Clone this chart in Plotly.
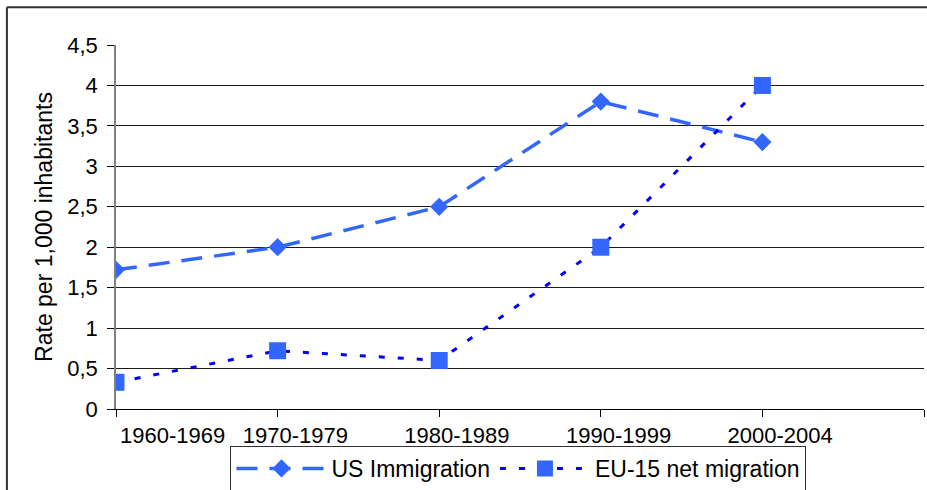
import plotly.graph_objects as go

periods = ["1960-1969", "1970-1979", "1980-1989", "1990-1999", "2000-2004"]
us_immigration = [1.72, 2.0, 2.5, 3.8, 3.3]
eu15_net_migration = [0.33, 0.72, 0.6, 2.0, 4.0]
y_ticks = [0, 0.5, 1, 1.5, 2, 2.5, 3, 3.5, 4, 4.5]

x_idx = list(range(len(periods)))

FONT = "Liberation Sans, Arial, sans-serif"

fig = go.Figure()
fig.add_trace(go.Scatter(
    x=x_idx, y=us_immigration, name="US Immigration", mode="lines+markers",
    line=dict(color="#3366FF", width=3.5, dash="21px,12px"),
    marker=dict(symbol="diamond", size=14, color="#3366FF"),
))
fig.add_trace(go.Scatter(
    x=x_idx, y=eu15_net_migration, name="EU-15 net migration", mode="lines+markers",
    line=dict(color="#0000FF", width=3, dash="6px,13px"),
    marker=dict(symbol="square", size=17, color="#3366FF"),
))

# label positions: Excel draws these slightly right of the tick marks
label_pos = [0.35] + [i + 0.11 for i in x_idx[1:]]

fig.update_layout(
    width=927, height=490,
    margin=dict(l=116, r=3, t=45, b=81, autoexpand=False),
    paper_bgcolor="white", plot_bgcolor="white",
    separators=",.",
    font=dict(family=FONT, size=22, color="black"),
    showlegend=True,
    legend=dict(
        orientation="h", xref="container", yref="container",
        x=0.5593, xanchor="center", y=1 - 446 / 490, yanchor="top",
        bordercolor="#333333", borderwidth=1, font=dict(size=23),
        itemwidth=90, tracegroupgap=0,
    ),
    xaxis=dict(
        range=[0, 5], tickvals=list(range(6)), ticktext=[""] * 6,
        ticks="outside", ticklen=7, tickcolor="black", tickwidth=1,
        showline=True, linecolor="black", linewidth=1,
        showgrid=False, zeroline=False, fixedrange=True, automargin=False,
    ),
    xaxis2=dict(
        overlaying="x", anchor="y", side="bottom", range=[0, 5],
        tickvals=label_pos, ticktext=periods, ticks="", showline=False,
        showgrid=False, zeroline=False, tickfont=dict(size=22),
        ticklabelstandoff=11, automargin=False,
    ),
    yaxis=dict(
        range=[0, 4.5], tickvals=y_ticks, ticks="outside", ticklen=7,
        tickcolor="black", showgrid=True, gridcolor="#1a1a1a", gridwidth=1,
        showline=True, linecolor="#808080", linewidth=1.5, zeroline=False,
        ticklabelstandoff=5, automargin=False,
        title=dict(text="Rate per 1,000 inhabitants", font=dict(size=23), standoff=8),
    ),
    shapes=[
        dict(type="line", xref="paper", yref="paper", x0=-0.135, x1=1.01,
             y0=1.104, y1=1.104, line=dict(color="#333333", width=2)),
        dict(type="line", xref="paper", yref="paper", x0=-0.135, x1=-0.135,
             y0=1.104, y1=-0.25, line=dict(color="#333333", width=2)),
    ],
)
# invisible helper trace so the label axis (xaxis2) is rendered
fig.add_trace(go.Scatter(x=[0], y=[0], xaxis="x2", showlegend=False,
                         mode="markers", marker=dict(opacity=0), hoverinfo="skip"))

fig.write_html(
    "out.html",
    config={"displayModeBar": False},
    post_script="document.body.style.margin='0';document.body.style.overflow='hidden';",
)
